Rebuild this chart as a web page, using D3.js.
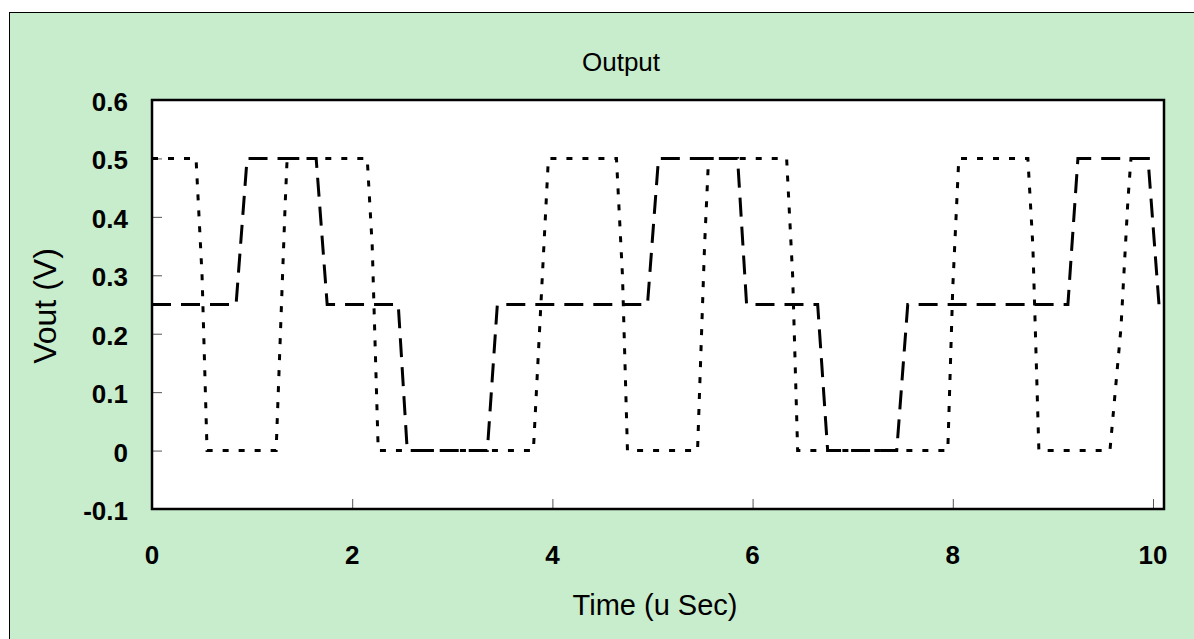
<!DOCTYPE html>
<html>
<head>
<meta charset="utf-8">
<script src="https://cdn.jsdelivr.net/npm/d3@7"></script>
<style>
  html, body { margin: 0; padding: 0; background: #ffffff; }
  svg { display: block; }
  text { font-family: "Liberation Sans", Arial, sans-serif; fill: #000; }
</style>
</head>
<body>
<svg id="chart" width="1194" height="639"></svg>
<script>
// Waveform samples (time in microseconds, output in volts)
const dashedTimes  = [0, 0.84, 0.95, 1.64, 1.75, 2.46, 2.55, 3.35, 3.45, 4.95, 5.06, 5.85, 5.94, 6.65, 6.75, 7.44, 7.55, 9.15, 9.25, 9.95, 10.06];
const dashedValues = [0.25, 0.25, 0.5, 0.5, 0.25, 0.25, 0, 0, 0.25, 0.25, 0.5, 0.5, 0.25, 0.25, 0, 0, 0.25, 0.25, 0.5, 0.5, 0.25];

const dottedTimes  = [0, 0.44, 0.5, 0.55, 1.24, 1.33, 1.35, 2.15, 2.2, 2.26, 3.81, 3.9, 3.96, 4.64, 4.7, 4.75, 5.45, 5.52, 5.56, 6.34, 6.4, 6.45, 7.95, 8.0, 8.06, 8.75, 8.8, 8.86, 9.57, 9.68, 9.75, 9.78, 10.06];
const dottedValues = [0.5, 0.5, 0.3, 0, 0, 0.42, 0.5, 0.5, 0.35, 0, 0, 0.3, 0.5, 0.5, 0.3, 0, 0, 0.35, 0.5, 0.5, 0.3, 0, 0, 0.28, 0.5, 0.5, 0.35, 0, 0, 0.21, 0.43, 0.5, 0.5];

const xTicks = [0, 2, 4, 6, 8, 10];
const yTicks = [-0.1, 0, 0.1, 0.2, 0.3, 0.4, 0.5, 0.6];
const yTickLabels = ["-0.1", "0", "0.1", "0.2", "0.3", "0.4", "0.5", "0.6"];

const svg = d3.select("#chart");
const plot = { left: 152, top: 100, right: 1164, bottom: 509 };

// Outer chart area
svg.append("rect")
  .attr("x", 9.5).attr("y", 12.5)
  .attr("width", 1300).attr("height", 800)
  .attr("fill", "#c8edcc")
  .attr("stroke", "#000").attr("stroke-width", 1);

const x = d3.scaleLinear().domain([0, 10.11]).range([plot.left, plot.right]);
const y = d3.scaleLinear().domain([-0.1, 0.6]).range([plot.bottom, plot.top]);

// Plot area background
svg.append("rect")
  .attr("x", plot.left).attr("y", plot.top)
  .attr("width", plot.right - plot.left).attr("height", plot.bottom - plot.top)
  .attr("fill", "#ffffff");

// Inside tick marks
const yAxis = d3.axisLeft(y).tickValues(yTicks).tickSize(-10).tickFormat("");
const gy = svg.append("g").attr("transform", `translate(${plot.left},0)`).call(yAxis);
gy.select(".domain").remove();
gy.selectAll(".tick line").attr("stroke", "#555").attr("stroke-width", 1);

const xAxis = d3.axisBottom(x).tickValues(xTicks).tickSize(-10).tickFormat("");
const gx = svg.append("g").attr("transform", `translate(0,${plot.bottom})`).call(xAxis);
gx.select(".domain").remove();
gx.selectAll(".tick line").attr("stroke", "#555").attr("stroke-width", 1);

// Tick labels
svg.append("g").selectAll("text").data(yTicks).join("text")
  .attr("x", 128).attr("y", d => y(d) + 11)
  .attr("text-anchor", "end")
  .attr("font-size", 26).attr("font-weight", "bold")
  .text((d, i) => yTickLabels[i]);

svg.append("g").selectAll("text").data(xTicks).join("text")
  .attr("x", d => x(d)).attr("y", 564)
  .attr("text-anchor", "middle")
  .attr("font-size", 26).attr("font-weight", "bold")
  .text(d => d);

// Series
svg.append("clipPath").attr("id", "plotclip")
  .append("rect")
  .attr("x", plot.left).attr("y", plot.top)
  .attr("width", plot.right - plot.left).attr("height", plot.bottom - plot.top);

const line = d3.line().x(d => x(d[0])).y(d => y(d[1]));

svg.append("path")
  .datum(dottedTimes.map((t, i) => [t, dottedValues[i]]))
  .attr("clip-path", "url(#plotclip)")
  .attr("d", line)
  .attr("fill", "none")
  .attr("stroke", "#000")
  .attr("stroke-width", 3)
  .attr("stroke-dasharray", "6,10");

svg.append("path")
  .datum(dashedTimes.map((t, i) => [t, dashedValues[i]]))
  .attr("clip-path", "url(#plotclip)")
  .attr("d", line)
  .attr("fill", "none")
  .attr("stroke", "#000")
  .attr("stroke-width", 3)
  .attr("stroke-dasharray", "19,10");

// Plot frame
svg.append("rect")
  .attr("x", plot.left).attr("y", plot.top)
  .attr("width", plot.right - plot.left).attr("height", plot.bottom - plot.top)
  .attr("fill", "none")
  .attr("stroke", "#000").attr("stroke-width", 2.5);

// Titles
svg.append("text")
  .attr("x", 621).attr("y", 71)
  .attr("text-anchor", "middle")
  .attr("font-size", 26)
  .text("Output");

svg.append("text")
  .attr("x", 655).attr("y", 615)
  .attr("text-anchor", "middle")
  .attr("font-size", 29)
  .text("Time (u Sec)");

svg.append("text")
  .attr("transform", "translate(56,306) rotate(-90)")
  .attr("text-anchor", "middle")
  .attr("font-size", 32)
  .text("Vout (V)");
</script>
</body>
</html>
